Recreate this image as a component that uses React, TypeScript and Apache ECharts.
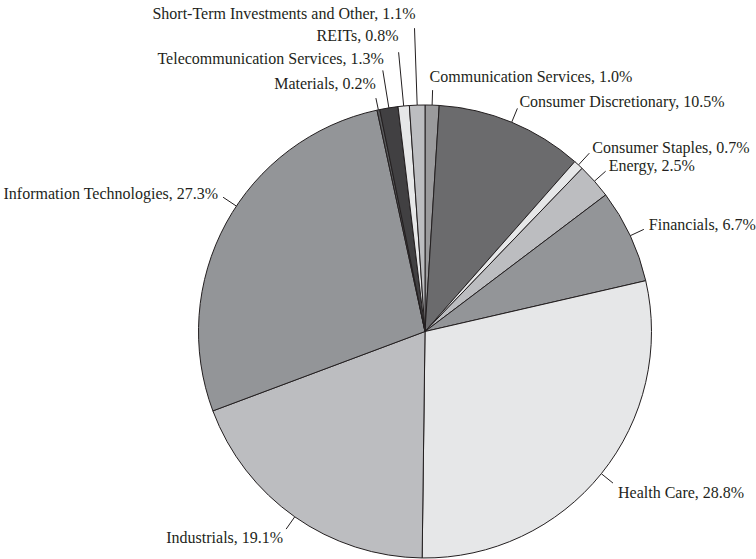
import React, { useEffect, useRef } from "react";
import * as echarts from "echarts";

const categories = [
  "Communication Services",
  "Consumer Discretionary",
  "Consumer Staples",
  "Energy",
  "Financials",
  "Health Care",
  "Industrials",
  "Information Technologies",
  "Materials",
  "Telecommunication Services",
  "REITs",
  "Short-Term Investments and Other",
];
const values = [1.0, 10.5, 0.7, 2.5, 6.7, 28.8, 19.1, 27.3, 0.2, 1.3, 0.8, 1.1];
const colors = [
  "#9a9a9c", "#6b6b6d", "#e6e7e8", "#bcbdc0", "#939598", "#e6e7e8",
  "#bcbdc0", "#939598", "#58595b", "#414042", "#e6e7e8", "#bcbdc0",
];
// label styling: leader line length, angular shift (deg), horizontal gap, vertical shift of text
const lineLen = [15, 15, 16, 15, 15, 15, 15, 16, 12, 38, 54, 77];
const lineShift = [0, 0, 0, 0, 0, 0, 0, 5, 0, 0, 0, 0];
const gapX = [-3, 2, 3, 3, 5, 5, 3, 5, 0, -1, 0, -1];
const gapY = [-14, -7, -6, -6, -5, 9, 8, -4, -15, -12, -17, -15];

export default function App() {
  const ref = useRef<HTMLDivElement>(null);
  useEffect(() => {
    if (!ref.current) return;
    const chart = echarts.init(ref.current, undefined, { renderer: "svg" });
    const cx = 425;
    const cy = 331.5;
    const R = 226.5;
    chart.setOption({
      animation: false,
      backgroundColor: "#ffffff",
      series: [
        {
          type: "pie",
          center: [cx, cy],
          radius: R,
          startAngle: 90,
          clockwise: true,
          avoidLabelOverlap: false,
          itemStyle: { borderColor: "#231f20", borderWidth: 1 },
          label: {
            show: true,
            position: "outside",
            color: "#231f20",
            fontFamily: "'Liberation Serif', 'Times New Roman', serif",
            fontSize: 16,
            formatter: (p: any) => `${p.name}, ${Number(p.value).toFixed(1)}%`,
          },
          labelLine: {
            show: true,
            length2: 0,
            lineStyle: { color: "#231f20", width: 1 },
          },
          labelLayout: (params: any) => {
            const i = params.dataIndex;
            const pts = params.labelLinePoints;
            if (!pts) return {};
            let p0 = pts[0];
            let p1 = pts[1];
            const sh = (lineShift[i] * Math.PI) / 180;
            if (sh) {
              const rot = (p: number[]) => {
                const vx = p[0] - cx;
                const vy = p[1] - cy;
                return [
                  cx + vx * Math.cos(sh) - vy * Math.sin(sh),
                  cy + vx * Math.sin(sh) + vy * Math.cos(sh),
                ];
              };
              p0 = rot(p0);
              p1 = rot(p1);
            }
            const isLeft = p1[0] < cx;
            return {
              x: p1[0] + (isLeft ? -gapX[i] : gapX[i]),
              y: p1[1] + gapY[i],
              align: isLeft ? "right" : "left",
              verticalAlign: "middle",
              labelLinePoints: [p0, p1],
            };
          },
          data: categories.map((name, i) => ({
            name,
            value: values[i],
            itemStyle: { color: colors[i] },
            labelLine: { length: lineLen[i], length2: 0 },
          })),
        },
      ],
    });
    return () => chart.dispose();
  }, []);
  return (
    <div
      ref={ref}
      style={{ position: "fixed", left: 0, top: 0, width: 756, height: 559 }}
    />
  );
}
